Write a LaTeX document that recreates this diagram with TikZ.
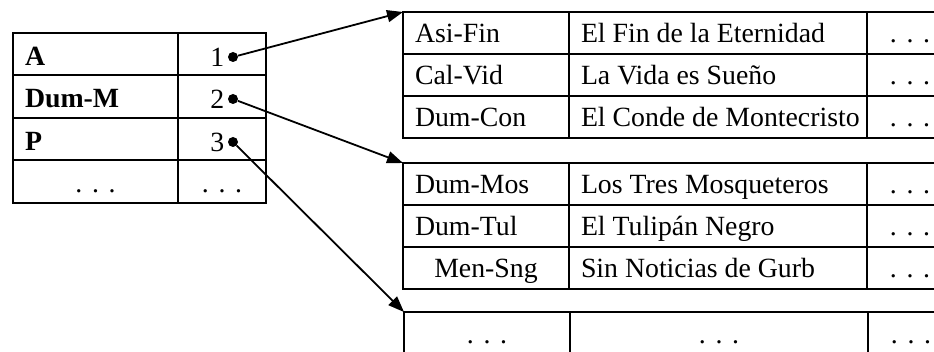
\documentclass[tikz,border=0pt]{standalone}
\usepackage{fontspec}
\setmainfont{Liberation Serif}
\usetikzlibrary{arrows.meta}
\newcommand{\puntos}{.\kern0.35em.\kern0.35em.}

\begin{document}
\begin{tikzpicture}[
  x=1pt, y=-1pt,
  font=\fontsize{27.8}{32}\selectfont,
  cell/.style={draw, line width=2pt, anchor=north west, inner xsep=12pt,
    inner ysep=0pt, outer sep=0pt, minimum height=42pt,
    text height=20pt, text depth=0pt},
  lcell/.style={cell, minimum width=#1,
    execute at begin node={\hbox to \dimexpr#1-24pt\relax\bgroup},
    execute at end node={\hss\egroup}},
  ccell/.style={cell, minimum width=#1},
  idx/.style={lcell=165pt, minimum height=42.5pt, text height=22pt},
  num/.style={ccell=88pt, minimum height=42.5pt, text height=22pt},
  key/.style={lcell=166pt},
  title/.style={lcell=298pt},
  rest/.style={ccell=86pt},
  ptr/.style={circle, fill, inner sep=0pt, minimum size=10pt},
  link/.style={-{Triangle[length=16pt, width=12pt]}, line width=1.8pt},
  ]
  \useasboundingbox (0,0) rectangle (934,352);

  \node[idx] (i1) at (13,33) {\textbf{A}};
  \node[num] (n1) at (178,33) {};
  \node[idx] (i2) at (13,75.5) {\textbf{Dum-M}};
  \node[num] (n2) at (178,75.5) {};
  \node[idx] (i3) at (13,118) {\textbf{P}};
  \node[num] (n3) at (178,118) {};
  \node[ccell=165pt, minimum height=42.5pt, text height=22pt] (i4) at (13,160.5) {\puntos};
  \node[num] (n4) at (178,160.5) {\puntos};

  \node[ptr, label=left:1] (p1) at (233,57) {};
  \node[ptr, label=left:2] (p2) at (233,99) {};
  \node[ptr, label=left:3] (p3) at (233,142) {};

  \node[key] (k11) at (403,12) {Asi-Fin};
  \node[title] (t11) at (569,12) {El Fin de la Eternidad};
  \node[rest] (r11) at (867,12) {\puntos};
  \node[key] (k12) at (403,54) {Cal-Vid};
  \node[title] (t12) at (569,54) {La Vida es Sueño};
  \node[rest] (r12) at (867,54) {\puntos};
  \node[key] (k13) at (403,96) {Dum-Con};
  \node[title] (t13) at (569,96) {El Conde de Montecristo};
  \node[rest] (r13) at (867,96) {\puntos};

  \node[key] (k21) at (403,163) {Dum-Mos};
  \node[title] (t21) at (569,163) {Los Tres Mosqueteros};
  \node[rest] (r21) at (867,163) {\puntos};
  \node[key] (k22) at (403,205) {Dum-Tul};
  \node[title] (t22) at (569,205) {El Tulipán Negro};
  \node[rest] (r22) at (867,205) {\puntos};
  \node[ccell=166pt] (k23) at (403,247) {Men-Sng};
  \node[title] (t23) at (569,247) {Sin Noticias de Gurb};
  \node[rest] (r23) at (867,247) {\puntos};

  \node[ccell=166pt, minimum height=43pt] (k31) at (404,312) {\puntos};
  \node[ccell=298pt, minimum height=43pt] (t31) at (570,312) {\puntos};
  \node[rest, minimum height=43pt] (r31) at (868,312) {\puntos};

  \draw[link] (p1) -- (k11.north west);
  \draw[link] (p2) -- (k21.north west);
  \draw[link] (p3) -- (k31.north west);
\end{tikzpicture}
\end{document}
